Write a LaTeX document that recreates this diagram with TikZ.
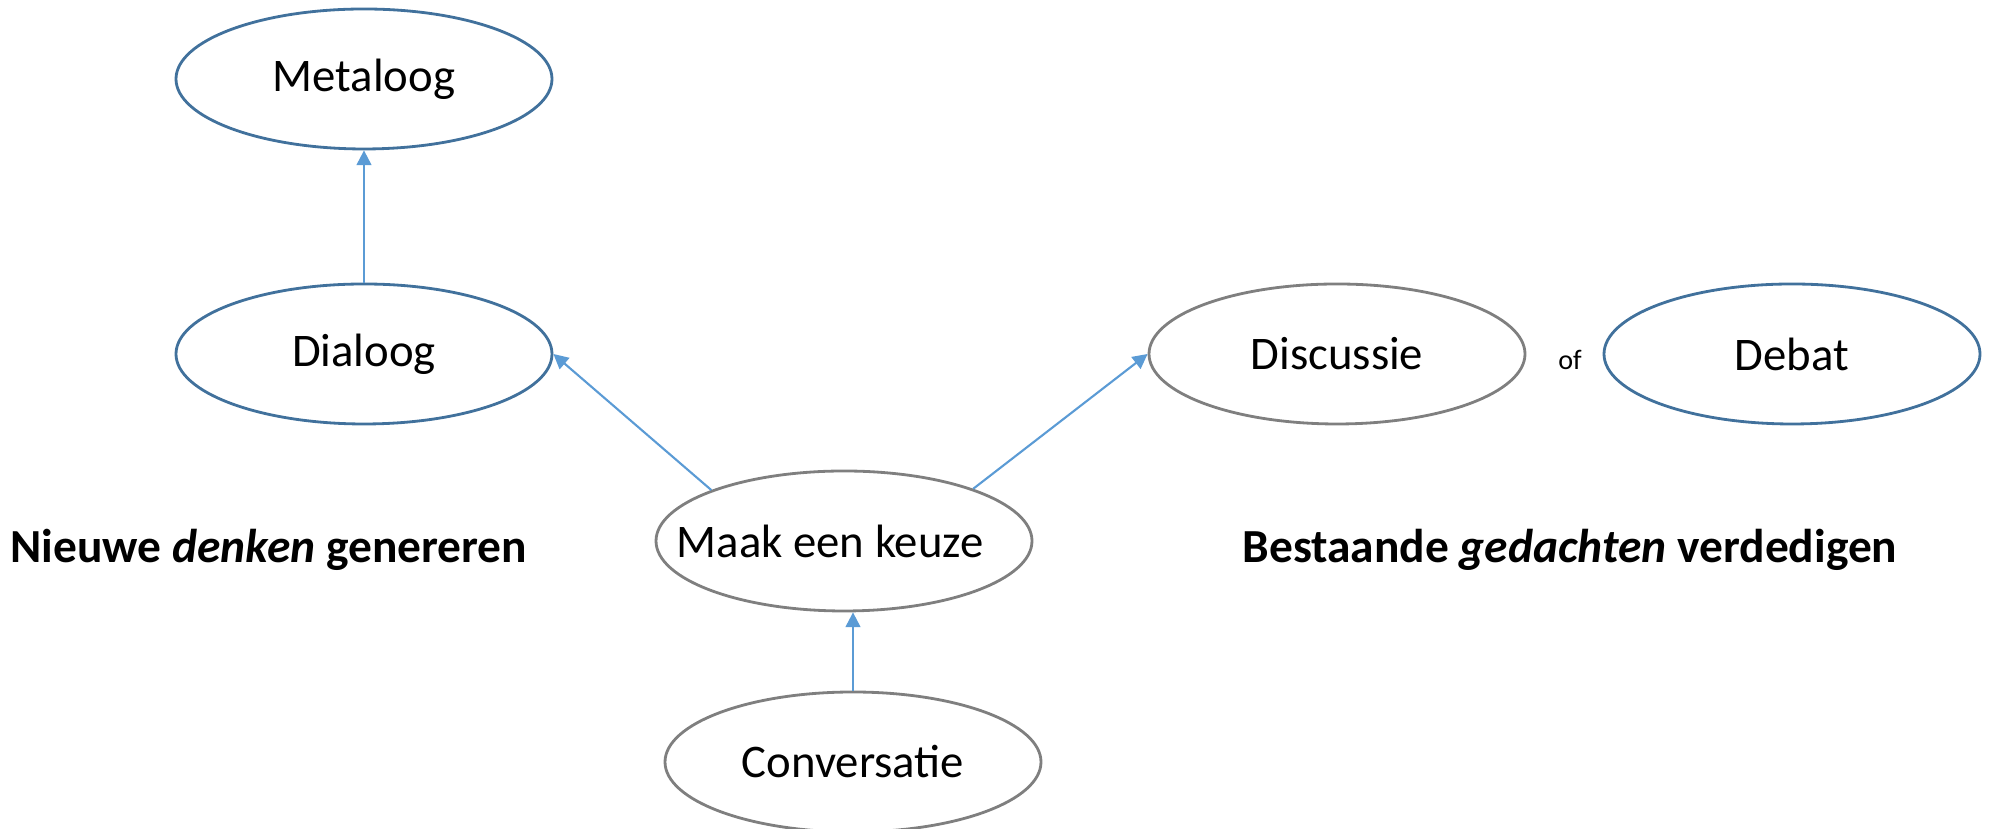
\documentclass[tikz,border=0pt]{standalone}
\usepackage{fontspec}
\setmainfont{Carlito}
\usetikzlibrary{positioning,arrows.meta,shapes.geometric}
\definecolor{ovalblue}{HTML}{41719C}
\definecolor{ovalgray}{HTML}{7F7F7F}
\definecolor{linkblue}{HTML}{5B9BD5}

\begin{document}
\begin{tikzpicture}[
  font=\fontsize{13.3}{15}\selectfont,
  >={Triangle[length=4.2pt, width=4.2pt]},
  vorm/.style={ellipse, draw=ovalblue, line width=0.8pt, minimum width=3.76cm, minimum height=1.40cm, inner sep=0pt},
  grijsvorm/.style={vorm, draw=ovalgray},
  pijl/.style={->, draw=linkblue, line width=0.6pt},
  kop/.style={font=\fontsize{13.5}{15}\selectfont\bfseries}
]
  \useasboundingbox (0,0) rectangle (19.97,8.29);
  \node[vorm] (meta) at (3.64,7.50) {Metaloog};
  \node[vorm] (dial) at (3.64,4.75) {Dialoog};
  \node[grijsvorm] (disc) at (13.37,4.75) {Discussie};
  \node[vorm] (debat) at (17.92,4.75) {Debat};
  \node[font=\fontsize{8}{10}\selectfont] (of) at (15.70,4.69) {of};
  \node[grijsvorm] (maak) at (8.44,2.88) {\makebox[1cm]{Maak een keuze\hspace{0.28cm}}};
  \node[grijsvorm] (conv) at (8.53,0.67) {Conversatie};
  \node[kop] (nieuw) at (2.69,2.79) {Nieuwe \textit{denken} genereren};
  \node[kop] (bestaand) at (15.70,2.79) {Bestaande \textit{gedachten} verdedigen};
  \draw[pijl] (dial) -- (meta);
  \draw[pijl] (maak.159) -- (dial.east);
  \draw[pijl] (maak.22) -- (disc.west);
  \draw[pijl] (conv.north) -- (conv.north |- maak.south);
\end{tikzpicture}
\end{document}
